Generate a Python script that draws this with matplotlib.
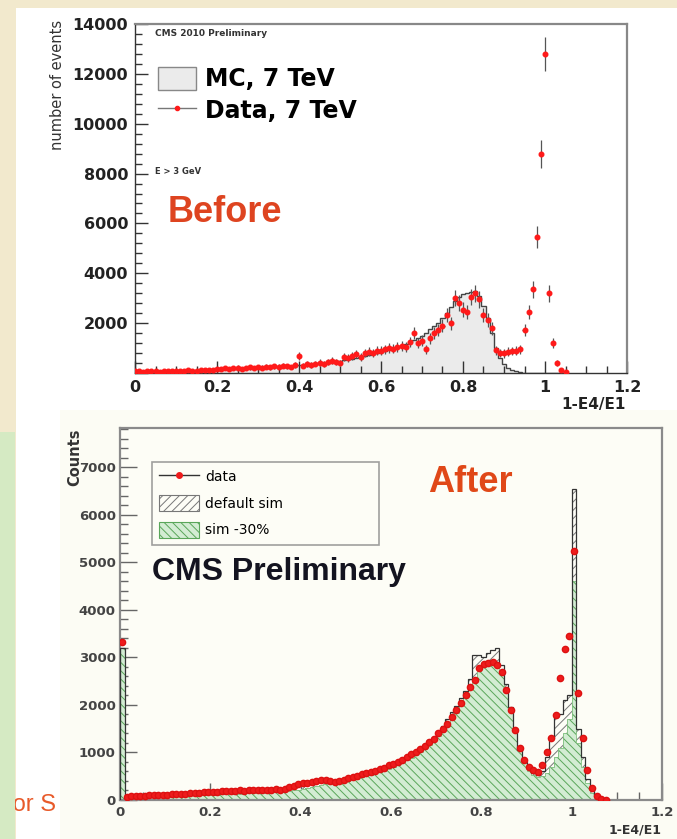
import numpy as np
import matplotlib
matplotlib.use("Agg")
import matplotlib.pyplot as plt
from matplotlib.patches import Rectangle, Patch
from matplotlib.lines import Line2D
from matplotlib.ticker import MultipleLocator

plt.rcParams['font.family'] = ['DejaVu Sans']
plt.rcParams['hatch.linewidth'] = 0.7

# ---- top histogram: 1-E4/E1, bins of 0.01 starting at 0.00 ----
top_data = [
    90, 70, 60, 80, 70, 90, 60, 80, 100, 90,
    80, 100, 90, 110, 100, 90, 120, 110, 140, 120,
    180, 150, 200, 170, 190, 220, 180, 210, 230, 200,
    240, 220, 260, 230, 280, 250, 300, 270, 240, 320,
    680, 300, 350, 320, 380, 420, 350, 450, 500, 430,
    400, 650, 600, 700, 750, 650, 800, 850, 800, 900,
    900, 950, 1000, 980, 1050, 1100, 1050, 1250, 1590, 1190,
    1300, 950, 1400, 1600, 1720, 1900, 2330, 1990, 3010, 2800,
    2530, 2450, 3050, 3200, 2950, 2330, 2130, 1790, 920, 800,
    790, 850, 880, 895, 950, 1720, 2450, 3360, 5470, 8790,
    12800, 3200, 1190, 410, 120, 30,
]
top_mc = [
    60, 60, 70, 70, 75, 80, 80, 85, 90, 90,
    95, 100, 100, 105, 110, 115, 120, 125, 130, 135,
    140, 145, 150, 160, 165, 170, 180, 185, 190, 200,
    210, 215, 225, 235, 245, 255, 265, 275, 290, 300,
    315, 330, 345, 360, 375, 390, 410, 430, 450, 470,
    490, 520, 550, 580, 620, 650, 690, 730, 770, 810,
    850, 900, 950, 1000, 1050, 1100, 1180, 1260, 1340, 1420,
    1500, 1620, 1750, 1880, 2000, 2200, 2400, 2650, 2900, 3050,
    3150, 3200, 3250, 3300, 3100, 2700, 2200, 1600, 1000, 600,
    350, 200, 120, 70, 40, 20, 10, 5, 0, 0,
    0, 0, 0, 0, 0, 0,
]

# ---- bottom histogram: bins of 0.01 from 0.00 to 1.08 ----
bot_data = [
    3330, 70, 75, 80, 90, 85, 95, 100, 105, 110,
    115, 120, 120, 130, 135, 140, 145, 150, 160, 170,
    175, 170, 180, 185, 190, 195, 200, 195, 205, 210,
    210, 215, 205, 220, 225, 215, 230, 280, 300, 330,
    350, 360, 380, 400, 430, 420, 400, 380, 390, 420,
    456, 480, 500, 540, 565, 590, 610, 650, 680, 730,
    760, 800, 850, 910, 960, 1020, 1080, 1130, 1220, 1280,
    1420, 1500, 1610, 1750, 1895, 2050, 2210, 2380, 2526, 2772,
    2860, 2877, 2912, 2842, 2700, 2316, 1895, 1474, 1095, 850,
    700, 632, 596, 737, 1000, 1305, 1789, 2568, 3172, 3453,
    5248, 2250, 1312, 632, 253, 90, 30, 10,
]
bot_default = [
    3200, 60, 70, 75, 80, 85, 90, 95, 100, 105,
    110, 115, 120, 125, 130, 135, 140, 150, 155, 165,
    170, 175, 180, 185, 190, 195, 200, 200, 205, 210,
    210, 215, 220, 225, 230, 235, 240, 270, 290, 320,
    340, 355, 370, 390, 410, 420, 410, 400, 410, 430,
    450, 470, 495, 520, 550, 580, 600, 640, 670, 720,
    750, 790, 840, 900, 950, 1010, 1070, 1150, 1260, 1330,
    1450, 1550, 1700, 1850, 1980, 2150, 2300, 2550, 3050, 3050,
    3000, 3100, 3150, 3200, 2850, 2450, 1950, 1450, 1050, 800,
    650, 560, 520, 600, 900, 1300, 1750, 1800, 2100, 2200,
    6550, 1500, 900, 450, 200, 80, 30, 10,
]
bot_sim30 = [
    3200, 40, 45, 50, 55, 55, 60, 65, 70, 70,
    75, 80, 80, 85, 90, 95, 100, 100, 105, 110,
    115, 115, 120, 125, 130, 130, 135, 140, 145, 150,
    150, 155, 160, 165, 170, 175, 180, 190, 200, 215,
    230, 250, 270, 290, 320, 340, 350, 360, 375, 390,
    410, 430, 450, 475, 500, 530, 560, 590, 620, 660,
    700, 740, 790, 840, 890, 950, 1010, 1080, 1160, 1240,
    1340, 1440, 1560, 1690, 1830, 1990, 2160, 2350, 2550, 2720,
    2820, 2880, 2900, 2850, 2650, 2300, 1900, 1450, 1050, 780,
    620, 520, 480, 500, 560, 700, 900, 1100, 1400, 1700,
    4600, 1200, 700, 350, 150, 60, 20, 5,
]

x_labels = ['0', '0.2', '0.4', '0.6', '0.8', '1', '1.2']
top_y_labels = ['', '2000', '4000', '6000', '8000', '10000', '12000', '14000']
bot_y_labels = ['0', '1000', '2000', '3000', '4000', '5000', '6000', '7000']

W, H = 677, 839
fig = plt.figure(figsize=(W / 100, H / 100), dpi=100)
fig.patch.set_facecolor('#f2e9cd')


def px_rect(x0, y0, x1, y1, color, z):
    r = Rectangle((x0 / W, 1 - y1 / H), (x1 - x0) / W, (y1 - y0) / H,
                  transform=fig.transFigure, facecolor=color,
                  edgecolor='none', zorder=z)
    fig.add_artist(r)


# slide backgrounds
px_rect(16, 8, 677, 839, 'white', -3)
px_rect(60, 410, 677, 839, '#fcfcf4', -2)
px_rect(0, 432, 15, 839, '#d5eac3', 5)

# ================= top panel =================
ax1 = fig.add_axes([135 / W, 1 - 373 / H, 492 / W, 349 / H])
ax1.set_facecolor('white')

n_top = len(top_data)
x_top = np.arange(n_top) * 0.01
edges_top = np.arange(n_top + 1) * 0.01 - 0.005
top_data = np.array(top_data, dtype=float)
top_err = 6.0 * np.sqrt(top_data)   # weighted-event stat errors

ax1.stairs(top_mc, edges_top, fill=True, color='#ebebeb', zorder=1)
ax1.stairs(top_mc, edges_top, color='#444444', lw=1.0, zorder=2)
ax1.errorbar(x_top, top_data, yerr=top_err, xerr=0.005, fmt='o', ms=3.3,
             mfc='#ff1a1a', mec='#ff1a1a', ecolor='#555555',
             elinewidth=0.9, capsize=0, zorder=3)

ax1.set_xlim(0, 1.2)
ax1.set_ylim(0, 14000)
ax1.set_xticks(np.arange(7) * 0.2)
ax1.set_xticklabels(x_labels, fontsize=11.5, fontweight='bold', color='#222')
ax1.set_yticks(np.arange(8) * 2000)
ax1.set_yticklabels(top_y_labels, fontsize=11.5, fontweight='bold', color='#222')
ax1.xaxis.set_minor_locator(MultipleLocator(0.05))
ax1.yaxis.set_minor_locator(MultipleLocator(400))
ax1.tick_params(which='both', direction='in', color='#333', width=1)
ax1.tick_params(which='major', length=9)
ax1.tick_params(which='minor', length=5)
ax1.tick_params(axis='x', pad=5)
ax1.tick_params(axis='y', pad=5)
for s in ['left', 'bottom']:
    ax1.spines[s].set_color('#333')
    ax1.spines[s].set_linewidth(1.0)
for s in ['top', 'right']:
    ax1.spines[s].set_color('#888')
    ax1.spines[s].set_linewidth(1.6)

top_handles = [
    Patch(facecolor='#ebebeb', edgecolor='#888888', lw=1.0),
    Line2D([], [], color='#777777', lw=1.0, marker='o', ms=3,
           mfc='#ff1a1a', mec='#ff1a1a'),
]
ax1.legend(top_handles, ['MC, 7 TeV', 'Data, 7 TeV'], loc='upper left',
           bbox_to_anchor=(0.047, 0.877), frameon=False, borderpad=0,
           borderaxespad=0, prop={'size': 17, 'weight': 'bold'},
           handlelength=1.6, handleheight=1.1, labelspacing=0.3,
           handletextpad=0.4)

fig.text(155 / W, 1 - 33 / H, 'CMS 2010 Preliminary', fontsize=6.5,
         fontweight='bold', color='#333', va='center')
fig.text(155 / W, 1 - 171 / H, 'E > 3 GeV', fontsize=6,
         fontweight='bold', color='#333', va='center')
fig.text(168 / W, 1 - 213 / H, 'Before', fontsize=26, fontweight='bold',
         color='#de4420', va='center', family='Liberation Sans')
fig.text(57 / W, 1 - 20 / H, 'number of events', rotation=90, fontsize=10.5,
         color='#333', ha='center', va='top')
fig.text(626 / W, 1 - 405 / H, '1-E4/E1', fontsize=11, fontweight='bold',
         color='#222', ha='right', va='center')

# ================= bottom panel =================
ax2 = fig.add_axes([120 / W, 1 - 800 / H, 542 / W, 372 / H])
ax2.set_facecolor('#fdfdf6')

n_bot = len(bot_data)
x_bot = np.arange(n_bot) * 0.01 + 0.005
edges_bot = np.arange(n_bot + 1) * 0.01

ax2.stairs(bot_default, edges_bot, fill=True, facecolor='none',
           edgecolor='#777777', hatch='////', lw=0, zorder=1)
ax2.stairs(bot_sim30, edges_bot, fill=True, facecolor='#d3ecd3',
           edgecolor='#5aa65a', hatch='\\\\\\\\', lw=0, zorder=2)
ax2.stairs(bot_sim30, edges_bot, color='#7fbf7f', lw=0.6, zorder=2.5)
ax2.stairs(bot_default, edges_bot, color='#333333', lw=0.9, zorder=3)
ax2.plot(x_bot, bot_data, 'o', ms=4.5, color='#ee1c1c', mec='#dd1111',
         zorder=4)

ax2.set_xlim(0, 1.2)
ax2.set_ylim(0, 7830)
ax2.set_xticks(np.arange(7) * 0.2)
ax2.set_xticklabels(x_labels, fontsize=9.5, fontweight='bold', color='#444')
ax2.set_yticks(np.arange(8) * 1000)
ax2.set_yticklabels(bot_y_labels, fontsize=9.5, fontweight='bold', color='#444')
ax2.xaxis.set_minor_locator(MultipleLocator(0.05))
ax2.yaxis.set_minor_locator(MultipleLocator(200))
ax2.tick_params(which='both', direction='in', color='#666', width=1)
ax2.tick_params(which='major', length=12)
ax2.tick_params(which='minor', length=6)
ax2.tick_params(axis='x', pad=4)
ax2.tick_params(axis='y', pad=3)
for s in ax2.spines.values():
    s.set_color('#8a8a8a')
    s.set_linewidth(1.6)

bot_handles = [
    Line2D([], [], color='#333333', lw=1.0, marker='o', ms=4,
           mfc='#ee1c1c', mec='#ee1c1c'),
    Patch(facecolor='none', edgecolor='#777777', hatch='////', lw=0.8),
    Patch(facecolor='#d3ecd3', edgecolor='#5aa65a', hatch='\\\\\\\\', lw=0.8),
]
leg = ax2.legend(bot_handles, ['data', 'default sim', 'sim -30%'],
                 loc='upper left', bbox_to_anchor=(0.059, 0.709, 0.419, 0.2),
                 mode='expand', fontsize=10, frameon=True, fancybox=False,
                 borderpad=0.5, borderaxespad=0, handlelength=2.9,
                 handleheight=1.4, labelspacing=0.75, handletextpad=0.45)
leg.get_frame().set_edgecolor('#888888')
leg.get_frame().set_linewidth(1.2)
leg.get_frame().set_facecolor('#fdfdf6')

fig.text(428 / W, 1 - 482 / H, 'After', fontsize=26, fontweight='bold',
         color='#e04818', va='center', family='Liberation Sans')
fig.text(152 / W, 1 - 572 / H, 'CMS Preliminary', fontsize=23,
         fontweight='bold', color='#141420', va='center',
         family='Liberation Sans')
fig.text(75 / W, 1 - 428 / H, 'Counts', rotation=90, fontsize=10.5,
         fontweight='bold', color='#333', ha='center', va='top')
fig.text(662 / W, 1 - 830 / H, '1-E4/E1', fontsize=9, fontweight='bold',
         color='#333', ha='right', va='center')

fig.text(6 / W, 1 - 805 / H, 'for S', fontsize=17, color='#e85a2a',
         va='center', family='Liberation Sans', zorder=4)

fig.savefig('out.png', dpi=100, facecolor=fig.get_facecolor())
